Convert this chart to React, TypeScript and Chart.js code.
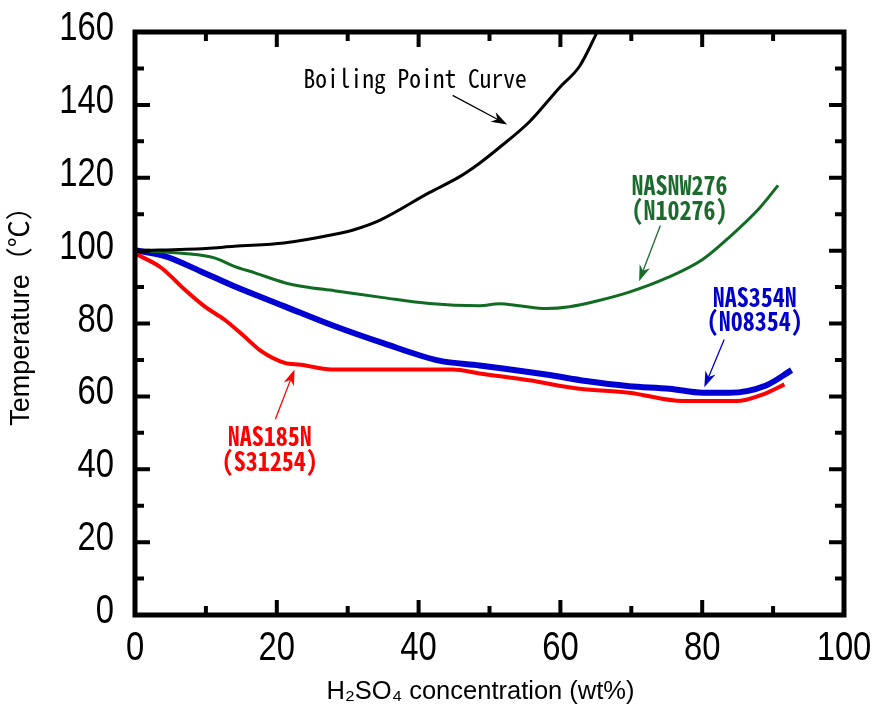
import React, { useEffect, useRef } from 'react';
import { Chart, registerables } from 'chart.js';
Chart.register(...registerables);

// ---- data ----
const boilX = [0, 10, 14, 21, 28, 31, 34.5, 41.5, 45.8, 48.6, 51.4, 55.6, 59.9, 62.7, 65.2];
const boilY = [100, 100.6, 101.2, 102.1, 104.4, 105.8, 108.3, 115.9, 120.3, 124, 128.3, 135.3, 144.8, 150.6, 160];

const nw276X = [0, 7, 11.2, 14, 16.9, 21.1, 23.9, 28.1, 35, 41.5, 48.6, 51.4, 54.2, 58, 61.3, 65, 69.7, 75, 80, 84, 88, 90.7];
const nw276Y = [100.1, 99.2, 98, 95.7, 93.9, 91.2, 90.1, 89, 87.1, 85.5, 84.9, 85.4, 84.9, 84.1, 84.6, 86.1, 88.6, 92.5, 97.5, 104, 111.5, 117.9];

const n354X = [0, 4.2, 9.3, 14, 21.1, 28.1, 35, 42.9, 48.6, 58, 63.6, 69.7, 75.4, 80.1, 83.8, 89, 92.6];
const n354Y = [100.1, 98.5, 94.3, 90.2, 84.7, 79.3, 74.6, 69.8, 68.5, 66, 64.2, 62.8, 62.1, 61, 61, 63, 67.2];

const n185X = [0, 3.7, 7, 9.8, 12.6, 15.4, 17.8, 21.1, 23.4, 27.7, 35, 44.8, 48.6, 55.6, 62.7, 69.7, 77.3, 84.8, 88.5, 91.6];
const n185Y = [99.2, 95.3, 89.3, 84.7, 81.1, 76.5, 72.4, 69.2, 68.7, 67.4, 67.4, 67.4, 66.3, 64.4, 62.1, 61, 58.7, 58.7, 60.5, 63.3];

const xTickValues = [0, 20, 40, 60, 80, 100];
const yTickValues = [0, 20, 40, 60, 80, 100, 120, 140, 160];

const xTitle = 'H\u2082SO\u2084 concentration (wt%)';
const yTitle = 'Temperature\uFF08\u2103\uFF09';

// annotation texts (anchored in data coordinates)
const annotations = [
  { lines: ['Boiling Point Curve'], x: 39.5, y: 147.2, color: '#000000', bold: false, size: 23.5, arrow: [44.8, 142.6, 52.5, 134.6] },
  { lines: ['NASNW276', '(N10276)'], x: 76.8, y: 114.6, color: '#1b6b2c', bold: true, size: 24, arrow: [74.1, 106.9, 71.1, 91.6] },
  { lines: ['NAS354N', '(N08354)'], x: 87.4, y: 84.0, color: '#0000cc', bold: true, size: 24, arrow: [83.1, 75.6, 80.3, 62.5] },
  { lines: ['NAS185N', '(S31254)'], x: 19.0, y: 45.7, color: '#ff0000', bold: true, size: 24, arrow: [19.8, 53.7, 22.5, 67.4] },
];

const pts = (xs: number[], ys: number[]) => xs.map((x, i) => ({ x, y: ys[i] }));

const TICK_FONT = '41px "Liberation Sans", Arial, sans-serif';
const TICK_SQUEEZE = 0.8;
const TITLE_FONT = '25.5px "Liberation Sans", Arial, "Noto Sans CJK JP", sans-serif';
const YTITLE_FONT = '27px "Liberation Sans", Arial, "Noto Sans CJK JP", sans-serif';

const framePlugin = {
  id: 'frame',
  afterDraw(chart: any) {
    const { ctx, chartArea, scales } = chart;
    const { left, right, top, bottom } = chartArea;
    const xs = scales.x, ys = scales.y;
    ctx.save();
    ctx.strokeStyle = '#000';
    ctx.lineWidth = 4;
    for (let v = 10; v < 100; v += 10) {
      const px = xs.getPixelForValue(v);
      const len = v % 20 === 0 ? 15 : 9;
      ctx.beginPath();
      ctx.moveTo(px, bottom); ctx.lineTo(px, bottom - len);
      ctx.moveTo(px, top); ctx.lineTo(px, top + len);
      ctx.stroke();
    }
    for (let v = 10; v < 160; v += 10) {
      const py = ys.getPixelForValue(v);
      const len = v % 20 === 0 ? 15 : 9;
      ctx.beginPath();
      ctx.moveTo(left, py); ctx.lineTo(left + len, py);
      ctx.moveTo(right, py); ctx.lineTo(right - len, py);
      ctx.stroke();
    }
    ctx.lineWidth = 5;
    ctx.strokeRect(left, top, right - left, bottom - top);

    // condensed tick labels
    ctx.fillStyle = '#000';
    ctx.font = TICK_FONT;
    ctx.textBaseline = 'alphabetic';
    for (const t of xs.ticks) {
      const px = xs.getPixelForValue(t.value);
      ctx.save();
      ctx.translate(px, bottom + 44.5);
      ctx.scale(TICK_SQUEEZE, 1);
      ctx.textAlign = 'center';
      ctx.fillText(String(t.value), 0, 0);
      ctx.restore();
    }
    for (const t of ys.ticks) {
      const py = ys.getPixelForValue(t.value);
      ctx.save();
      ctx.translate(left - 21, py + 8);
      ctx.scale(TICK_SQUEEZE, 1);
      ctx.textAlign = 'right';
      ctx.fillText(String(t.value), 0, 0);
      ctx.restore();
    }

    // axis titles
    ctx.font = TITLE_FONT;
    ctx.textAlign = 'center';
    ctx.textBaseline = 'middle';
    ctx.fillText(xTitle, (left + right) / 2 - 9, bottom + 77);
    ctx.font = YTITLE_FONT;
    ctx.save();
    ctx.translate(left - 113, (top + bottom) / 2 - 14);
    ctx.rotate(-Math.PI / 2);
    ctx.fillText(yTitle, 0, 0);
    ctx.restore();
    ctx.restore();
  },
};

const annotationPlugin = {
  id: 'annot',
  afterDatasetsDraw(chart: any) {
    const { ctx, scales } = chart;
    const xs = scales.x, ys = scales.y;
    ctx.save();
    for (const a of annotations) {
      const cx = xs.getPixelForValue(a.x);
      const cy = ys.getPixelForValue(a.y);
      ctx.fillStyle = a.color;
      ctx.strokeStyle = a.color;
      ctx.font = `${a.bold ? 'bold ' : ''}${a.size}px "Noto Sans Mono CJK JP", "Liberation Mono", monospace`;
      ctx.textAlign = 'center';
      ctx.textBaseline = 'middle';
      const lh = a.size * 1.02;
      a.lines.forEach((line, i) => {
        const target = line.length * 0.5 * a.size;
        const w = ctx.measureText(line).width;
        const sx = target / w;
        const ly = cy + (i - (a.lines.length - 1) / 2) * lh;
        ctx.save();
        ctx.translate(cx, ly);
        ctx.scale(sx, 1.1);
        ctx.fillText(line, 0, 0);
        ctx.restore();
      });
      // arrow
      const [x1, y1, x2, y2] = a.arrow;
      const p1x = xs.getPixelForValue(x1), p1y = ys.getPixelForValue(y1);
      const p2x = xs.getPixelForValue(x2), p2y = ys.getPixelForValue(y2);
      const ang = Math.atan2(p2y - p1y, p2x - p1x);
      const hl = 16, hw = 5.5;
      ctx.lineWidth = 1.3;
      ctx.beginPath();
      ctx.moveTo(p1x, p1y);
      ctx.lineTo(p2x - Math.cos(ang) * hl * 0.6, p2y - Math.sin(ang) * hl * 0.6);
      ctx.stroke();
      const bx = p2x - Math.cos(ang) * hl, by = p2y - Math.sin(ang) * hl;
      const nx = -Math.sin(ang), ny = Math.cos(ang);
      const mx = p2x - Math.cos(ang) * hl * 0.7, my = p2y - Math.sin(ang) * hl * 0.7;
      ctx.beginPath();
      ctx.moveTo(p2x, p2y);
      ctx.lineTo(bx + nx * hw, by + ny * hw);
      ctx.lineTo(mx, my);
      ctx.lineTo(bx - nx * hw, by - ny * hw);
      ctx.closePath();
      ctx.fill();
    }
    ctx.restore();
  },
};

export default function App() {
  const ref = useRef<HTMLCanvasElement | null>(null);
  useEffect(() => {
    document.body.style.margin = '0';
    const canvas = ref.current!;
    const chart = new Chart(canvas, {
      type: 'scatter',
      data: {
        datasets: [
          { label: 'Boiling Point Curve', data: pts(boilX, boilY), borderColor: '#000000', borderWidth: 3 },
          { label: 'NASNW276', data: pts(nw276X, nw276Y), borderColor: '#126b22', borderWidth: 3 },
          { label: 'NAS185N', data: pts(n185X, n185Y), borderColor: '#ff0000', borderWidth: 4 },
          { label: 'NAS354N', data: pts(n354X, n354Y), borderColor: '#0000d2', borderWidth: 6 },
        ].map((d) => ({ ...d, showLine: true, cubicInterpolationMode: 'monotone' as const, pointRadius: 0, pointHoverRadius: 0, fill: false, borderCapStyle: 'butt' as const })),
      },
      options: {
        animation: false,
        responsive: false,
        devicePixelRatio: 1,
        events: [],
        layout: { padding: { top: 32, right: 38, left: 0, bottom: 0 } },
        plugins: { legend: { display: false }, tooltip: { enabled: false } },
        scales: {
          x: {
            type: 'linear', min: 0, max: 100,
            afterBuildTicks: (s: any) => { s.ticks = xTickValues.map((v) => ({ value: v })); },
            afterFit: (s: any) => { s.height = 103; s.paddingLeft = 0; s.paddingRight = 0; },
            grid: { display: false, drawTicks: false },
            border: { display: false },
            ticks: { display: false },
            title: { display: false, text: xTitle },
          },
          y: {
            type: 'linear', min: 0, max: 160,
            afterBuildTicks: (s: any) => { s.ticks = yTickValues.map((v) => ({ value: v })); },
            afterFit: (s: any) => { s.width = 135; s.paddingTop = 0; s.paddingBottom = 0; },
            grid: { display: false, drawTicks: false },
            border: { display: false },
            ticks: { display: false },
            title: { display: false, text: yTitle },
          },
        },
      },
      plugins: [framePlugin, annotationPlugin],
    } as any);
    return () => chart.destroy();
  }, []);
  return (
    <div style={{ width: 882, height: 718, background: '#fff' }}>
      <canvas ref={ref} width={882} height={718} style={{ display: 'block', width: 882, height: 718 }} />
    </div>
  );
}
